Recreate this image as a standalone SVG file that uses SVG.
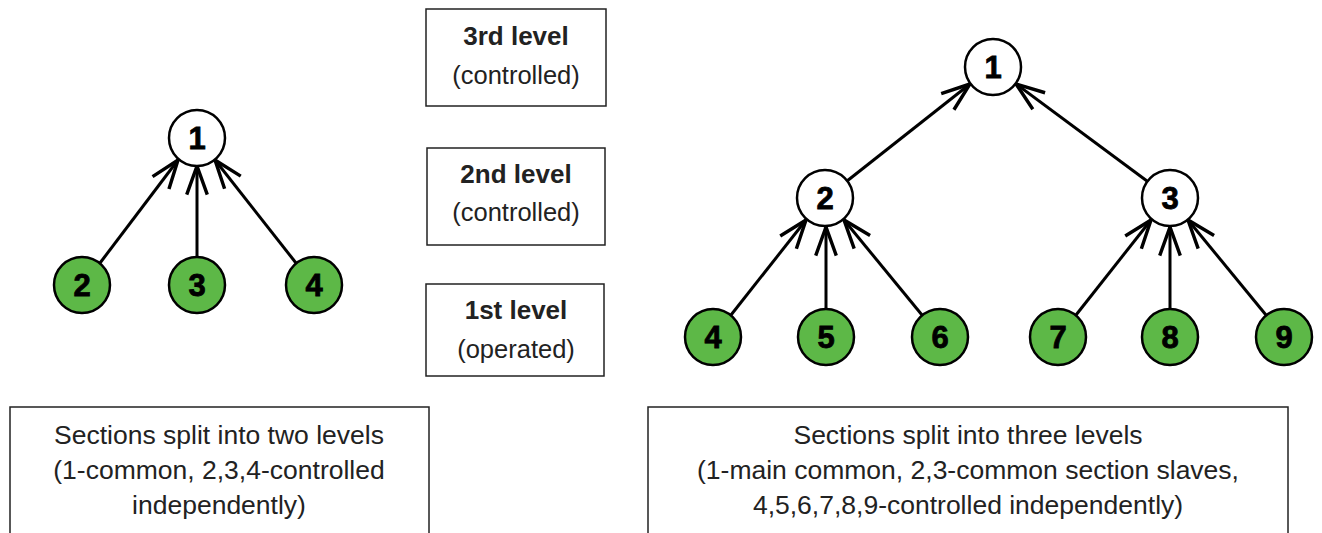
<svg xmlns="http://www.w3.org/2000/svg" width="1322" height="533" viewBox="0 0 1322 533">
<style>
  .node circle { stroke: #000; stroke-width: 2.5; }
  .white circle { fill: #fff; }
  .green circle { fill: #5DB847; }
  .node text { font-family: "Liberation Sans", Arial, sans-serif; font-weight: bold; font-size: 31px; fill: #000; stroke: #000; stroke-width: 0.8; text-anchor: middle; }
  .edge { stroke: #000; stroke-width: 3; fill: none; marker-end: url(#arr); }
  .box rect { fill: #fff; stroke: #222; stroke-width: 1.5; }
  .box text { font-family: "Liberation Sans", Arial, sans-serif; fill: #222; text-anchor: middle; }
  .title { font-weight: bold; font-size: 26px; }
  .sub { font-size: 25.5px; }
  .desc { font-size: 26.5px; }
</style>
<defs>
  <marker id="arr" markerUnits="userSpaceOnUse" markerWidth="40" markerHeight="40" refX="0" refY="0" viewBox="-30 -15 35 30" orient="auto" overflow="visible">
    <path d="M-25,-9 L0,0 L-25,9" fill="none" stroke="#000" stroke-width="3"/>
  </marker>
</defs>
<rect width="1322" height="533" fill="#fff"/>

<g id="connectors">
  <line class="edge" x1="100" y1="263" x2="178" y2="160"/>
  <line class="edge" x1="197" y1="256" x2="197" y2="166"/>
  <line class="edge" x1="296" y1="263" x2="215" y2="160"/>
  <line class="edge" x1="847" y1="181" x2="970" y2="84"/>
  <line class="edge" x1="1147" y1="181" x2="1016" y2="84"/>
  <line class="edge" x1="731" y1="315" x2="806" y2="220"/>
  <line class="edge" x1="826" y1="308" x2="826" y2="227"/>
  <line class="edge" x1="922" y1="315" x2="844" y2="220"/>
  <line class="edge" x1="1076" y1="315" x2="1151" y2="220"/>
  <line class="edge" x1="1170" y1="308" x2="1170" y2="227"/>
  <line class="edge" x1="1266" y1="315" x2="1188" y2="220"/>
</g>

<g id="L1" class="node white"><circle cx="197" cy="138" r="28"/><text x="197" y="149">1</text></g>
<g id="L2" class="node green"><circle cx="82" cy="285" r="28"/><text x="82" y="296">2</text></g>
<g id="L3" class="node green"><circle cx="197" cy="285" r="28"/><text x="197" y="296">3</text></g>
<g id="L4" class="node green"><circle cx="314" cy="285" r="28"/><text x="314" y="296">4</text></g>

<g id="R1" class="node white"><circle cx="993" cy="67" r="28"/><text x="993" y="78">1</text></g>
<g id="R2" class="node white"><circle cx="825" cy="198" r="28"/><text x="825" y="209">2</text></g>
<g id="R3" class="node white"><circle cx="1170" cy="198" r="28"/><text x="1170" y="209">3</text></g>
<g id="R4" class="node green"><circle cx="713" cy="337" r="28"/><text x="713" y="348">4</text></g>
<g id="R5" class="node green"><circle cx="826" cy="337" r="28"/><text x="826" y="348">5</text></g>
<g id="R6" class="node green"><circle cx="940" cy="337" r="28"/><text x="940" y="348">6</text></g>
<g id="R7" class="node green"><circle cx="1058" cy="337" r="28"/><text x="1058" y="348">7</text></g>
<g id="R8" class="node green"><circle cx="1170" cy="337" r="28"/><text x="1170" y="348">8</text></g>
<g id="R9" class="node green"><circle cx="1284" cy="337" r="28"/><text x="1284" y="348">9</text></g>

<g id="level3" class="box">
  <rect x="426" y="9" width="180" height="97"/>
  <text class="title" x="516" y="45">3rd level</text>
  <text class="sub" x="516" y="84">(controlled)</text>
</g>
<g id="level2" class="box">
  <rect x="427" y="148" width="178" height="97"/>
  <text class="title" x="516" y="183">2nd level</text>
  <text class="sub" x="516" y="221">(controlled)</text>
</g>
<g id="level1" class="box">
  <rect x="426" y="284" width="178" height="92"/>
  <text class="title" x="516" y="319">1st level</text>
  <text class="sub" x="516" y="358">(operated)</text>
</g>

<g id="desc-left" class="box">
  <rect x="10" y="407" width="419" height="140"/>
  <text class="desc" x="219" y="444">Sections split into two levels</text>
  <text class="desc" x="219" y="479">(1-common, 2,3,4-controlled</text>
  <text class="desc" x="219" y="514">independently)</text>
</g>
<g id="desc-right" class="box">
  <rect x="648" y="407" width="640" height="140"/>
  <text class="desc" x="968" y="444">Sections split into three levels</text>
  <text class="desc" x="968" y="479">(1-main common, 2,3-common section slaves,</text>
  <text class="desc" x="968" y="514">4,5,6,7,8,9-controlled independently)</text>
</g>
</svg>
